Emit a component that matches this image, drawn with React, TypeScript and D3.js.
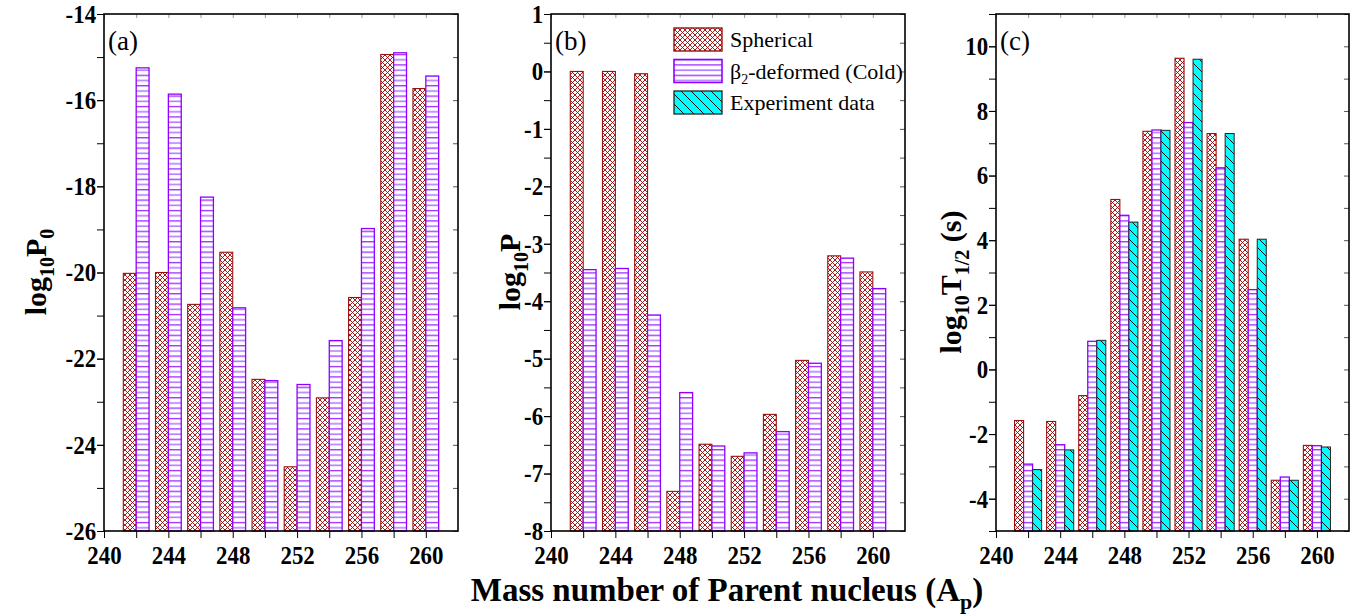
import React, { useEffect, useRef } from 'react';
import * as d3 from 'd3';

const masses = [242, 244, 246, 248, 250, 252, 254, 256, 258, 260];

// (a) log10 P0
const sphP0 = [-20.02, -20.0, -20.74, -19.53, -22.48, -24.51, -22.91, -20.58, -14.94, -15.73];
const defP0 = [-15.25, -15.86, -18.25, -20.82, -22.51, -22.6, -21.58, -18.98, -14.9, -15.44];

// (b) log10 P
const sphP = [0.0, 0.0, -0.04, -7.31, -6.49, -6.7, -5.97, -5.03, -3.21, -3.49];
const defP = [-3.45, -3.43, -4.24, -5.59, -6.52, -6.64, -6.27, -5.08, -3.25, -3.78];

// (c) log10 T1/2 (s)
const sphT = [-1.58, -1.61, -0.81, 5.26, 7.37, 9.63, 7.3, 4.03, -3.43, -2.35];
const defT = [-2.93, -2.33, 0.87, 4.77, 7.41, 7.64, 6.24, 2.47, -3.33, -2.36];
const expT = [-3.1, -2.49, 0.9, 4.56, 7.4, 9.6, 7.3, 4.03, -3.43, -2.4];

const xTickLabels = [240, 244, 248, 252, 256, 260];
const seriesNames = ['Spherical', 'β2-deformed (Cold)', 'Experiment data'];

const FONT = '"Liberation Serif", "Times New Roman", serif';
const TOP = 14;
const BOTTOM = 531;

export default function App() {
  const ref = useRef<SVGSVGElement>(null);

  useEffect(() => {
    if (!ref.current) return;
    const svg = d3.select(ref.current);
    svg.selectAll('*').remove();

    const defs = svg.append('defs');
    const cross = defs.append('pattern').attr('id', 'cross').attr('patternUnits', 'userSpaceOnUse')
      .attr('width', 5).attr('height', 5);
    cross.append('rect').attr('width', 5).attr('height', 5).attr('fill', '#fff');
    cross.append('path').attr('d', 'M0,0L5,5M5,0L0,5').attr('stroke', '#a00000').attr('stroke-width', 0.9);

    const hor = defs.append('pattern').attr('id', 'hor').attr('patternUnits', 'userSpaceOnUse')
      .attr('width', 6).attr('height', 10.4);
    hor.append('rect').attr('width', 6).attr('height', 10.4).attr('fill', '#fff');
    hor.append('line').attr('x1', 0).attr('x2', 6).attr('y1', 2.6).attr('y2', 2.6).attr('stroke', '#8a00ff').attr('stroke-width', 1.1);
    hor.append('line').attr('x1', 0).attr('x2', 6).attr('y1', 7.8).attr('y2', 7.8).attr('stroke', '#b07cff').attr('stroke-width', 1.6);

    const diag = defs.append('pattern').attr('id', 'diag').attr('patternUnits', 'userSpaceOnUse')
      .attr('width', 10).attr('height', 10);
    diag.append('rect').attr('width', 10).attr('height', 10).attr('fill', '#00ffff');
    diag.append('path').attr('d', 'M0,0L10,10M-5,5L5,15M5,-5L15,5').attr('stroke', '#111').attr('stroke-width', 1);

    const styles = [
      { fill: 'url(#cross)', stroke: '#9a1010', sw: 1.1 },
      { fill: 'url(#hor)', stroke: '#8f00ff', sw: 1.3 },
      { fill: 'url(#diag)', stroke: '#222', sw: 1 },
    ];

    const panels = [
      { x0: 104, x1: 458, dom: [-26, -14], major: d3.range(-26, -13, 2), minor: d3.range(-26, -13, 1), series: [sphP0, defP0], bw: 0.8, tag: '(a)', ylab: 'a', ylx: 46, yly: 272 },
      { x0: 551, x1: 905, dom: [-8, 1], major: d3.range(-8, 2, 1), minor: d3.range(-8, 1.01, 0.5), series: [sphP, defP], bw: 0.8, tag: '(b)', ylab: 'b', ylx: 520, yly: 272 },
      { x0: 996, x1: 1349, dom: [-5, 11], major: d3.range(-4, 11, 2), minor: d3.range(-5, 12, 1), series: [sphT, defT, expT], bw: 0.5625, tag: '(c)', ylab: 'c', ylx: 961, yly: 282 },
    ];

    const tickFont = (sel: d3.Selection<d3.BaseType, unknown, SVGGElement, unknown>) =>
      sel.attr('font-family', FONT).attr('font-weight', 'bold').attr('font-size', 26).attr('fill', '#000');

    panels.forEach(p => {
      const x = d3.scaleLinear().domain([240, 262]).range([p.x0, p.x1]);
      const y = d3.scaleLinear().domain(p.dom).range([BOTTOM, TOP]);
      const g = svg.append('g');
      const n = p.series.length;

      p.series.forEach((vals, si) => {
        const st = styles[si];
        g.selectAll(null).data(masses).enter().append('rect')
          .attr('x', (m) => x(m - (n * p.bw) / 2 + si * p.bw))
          .attr('width', x(240 + p.bw) - x(240))
          .attr('y', (_m, i) => y(vals[i]))
          .attr('height', (_m, i) => y(p.dom[0]) - y(vals[i]))
          .attr('fill', st.fill).attr('stroke', st.stroke).attr('stroke-width', st.sw);
      });

      const xTicks = d3.range(240, 261, 2);
      const ax = g.append('g').attr('transform', `translate(0,${BOTTOM})`)
        .call(d3.axisBottom(x).tickValues(xTicks).tickSize(7).tickSizeOuter(0)
          .tickFormat(d => (xTickLabels.includes(d as number) ? String(d) : '')));
      ax.select('.domain').remove();
      tickFont(ax.selectAll('text')).attr('dy', '0.9em').attr('transform', 'scale(0.88,1)');

      const ayMinor = g.append('g').attr('transform', `translate(${p.x0},0)`)
        .call(d3.axisLeft(y).tickValues(p.minor).tickSize(7).tickFormat(() => ''));
      ayMinor.select('.domain').remove();
      const ay = g.append('g').attr('transform', `translate(${p.x0},0)`)
        .call(d3.axisLeft(y).tickValues(p.major).tickSize(7).tickPadding(2).tickFormat(d => String(d)));
      ay.select('.domain').remove();
      tickFont(ay.selectAll('text')).attr('transform', 'scale(0.88,1)');

      const ayR = g.append('g').attr('transform', `translate(${p.x1},0)`)
        .call(d3.axisLeft(y).tickValues(p.minor).tickSize(5).tickFormat(() => ''));
      ayR.select('.domain').remove();
      ayR.selectAll('line').attr('stroke', '#555');
      const axT = g.append('g').attr('transform', `translate(0,${TOP})`)
        .call(d3.axisBottom(x).tickValues(xTicks).tickSize(4).tickFormat(() => ''));
      axT.select('.domain').remove();
      axT.selectAll('line').attr('stroke', '#999');

      g.append('rect').attr('x', p.x0).attr('y', TOP).attr('width', p.x1 - p.x0).attr('height', BOTTOM - TOP)
        .attr('fill', 'none').attr('stroke', '#000').attr('stroke-width', 1.6);

      g.append('text').attr('x', p.x0 + 4).attr('y', 50).attr('font-family', FONT).attr('font-size', 27).text(p.tag);

      const yl = g.append('text').attr('transform', `translate(${p.ylx},${p.yly}) rotate(-90)`)
        .attr('text-anchor', 'middle').attr('font-family', FONT).attr('font-weight', 'bold').attr('font-size', 30);
      yl.append('tspan').text('log');
      yl.append('tspan').attr('font-size', 20).attr('dy', 8).text('10');
      if (p.ylab === 'c') {
        yl.append('tspan').attr('dy', -8).text('T');
        yl.append('tspan').attr('font-size', 20).attr('dy', 8).text('1/2');
        yl.append('tspan').attr('dy', -8).text(' (s)');
      } else {
        yl.append('tspan').attr('dy', -8).text('P');
        if (p.ylab === 'a') yl.append('tspan').attr('font-size', 20).attr('dy', 8).text('0');
      }
    });

    // legend
    const lg = svg.append('g');
    seriesNames.forEach((name, i) => {
      const yy = 28 + i * 31.5;
      lg.append('rect').attr('x', 674).attr('y', yy).attr('width', 48).attr('height', 23)
        .attr('fill', styles[i].fill).attr('stroke', styles[i].stroke).attr('stroke-width', styles[i].sw + 0.3);
      const t = lg.append('text').attr('x', 730).attr('y', yy + 19).attr('font-family', FONT).attr('font-size', 22);
      if (i === 1) {
        t.append('tspan').text('β');
        t.append('tspan').attr('font-size', 14).attr('dy', 5).text('2');
        t.append('tspan').attr('dy', -5).text('-deformed (Cold)');
      } else t.text(name);
    });

    const xt = svg.append('text').attr('x', 727).attr('y', 601).attr('text-anchor', 'middle')
      .attr('font-family', FONT).attr('font-weight', 'bold').attr('font-size', 33);
    xt.append('tspan').text('Mass number of Parent nucleus (A');
    xt.append('tspan').attr('font-size', 22).attr('dy', 8).text('p');
    xt.append('tspan').attr('dy', -8).text(')');
  }, []);

  return (
    <svg ref={ref} width={1365} height={615} style={{ position: 'absolute', left: 0, top: 0, background: '#fff' }} />
  );
}
